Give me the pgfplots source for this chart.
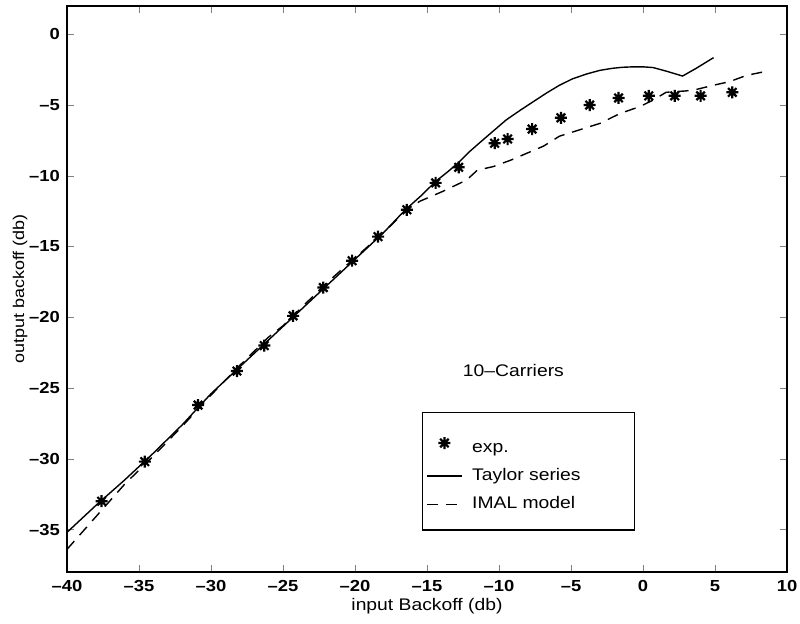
\documentclass[border=0pt]{standalone}
\usepackage{pgfplots}
\pgfplotsset{compat=1.18}
\usepackage{fontspec}
\setmainfont[FakeStretch=1.15]{Liberation Sans}
\usetikzlibrary{calc}

% 8-armed star like the matlab '*' marker
\pgfdeclareplotmark{mstar}{%
  \pgfpathmoveto{\pgfqpoint{-\pgfplotmarksize}{0pt}}\pgfpathlineto{\pgfqpoint{\pgfplotmarksize}{0pt}}%
  \pgfpathmoveto{\pgfqpoint{0pt}{-\pgfplotmarksize}}\pgfpathlineto{\pgfqpoint{0pt}{\pgfplotmarksize}}%
  \pgfpathmoveto{\pgfqpoint{-.707\pgfplotmarksize}{-.707\pgfplotmarksize}}\pgfpathlineto{\pgfqpoint{.707\pgfplotmarksize}{.707\pgfplotmarksize}}%
  \pgfpathmoveto{\pgfqpoint{-.707\pgfplotmarksize}{.707\pgfplotmarksize}}\pgfpathlineto{\pgfqpoint{.707\pgfplotmarksize}{-.707\pgfplotmarksize}}%
  \pgfusepathqstroke}

\begin{document}
\begin{tikzpicture}
\begin{axis}[name=ax,scale only axis,width=360pt,height=283pt,
  xmin=-40,xmax=10,ymin=-38,ymax=2,
  xtick={-40,-35,...,10},ytick={-35,-30,...,0},
  xticklabels={--40,--35,--30,--25,--20,--15,--10,--5,0,5,10},
  yticklabels={--35,--30,--25,--20,--15,--10,--5,0},
  tick align=inside,major tick length=3.5pt,
  xtick pos=both,ytick pos=both,
  tick label style={font=\fontsize{8}{10}\selectfont\bfseries},
  xticklabel style={yshift=-2.8pt,inner xsep=0pt,inner ysep=1pt},yticklabel style={xshift=0pt},
  xlabel={input Backoff (db)},ylabel={output backoff (db)},
  xlabel style={font=\fontsize{8.4}{10}\selectfont,at={(axis description cs:0.5,-0.061)},anchor=center,inner ysep=1pt},
  ylabel style={font=\fontsize{7.8}{9}\selectfont,at={(axis description cs:-0.0653,0.5)},anchor=center,rotate=0},
  axis line style={line width=0.7pt},
  legend style={at={(axis description cs:0.493,0.283)},anchor=north west,
    font=\fontsize{8.4}{10}\selectfont,draw=black,line width=0.7pt,
    inner xsep=2pt,inner ysep=7pt,row sep=2.5pt},
  legend cell align=left]
\addplot[only marks,mark=mstar,mark size=3pt,line width=1.1pt] coordinates {
  (-37.6,-33.0) (-34.6,-30.2) (-30.9,-26.2) (-28.2,-23.8) (-26.3,-22.0)
  (-24.3,-19.9) (-22.2,-17.9) (-20.2,-16.0) (-18.4,-14.3) (-16.4,-12.4)
  (-14.4,-10.5) (-12.8,-9.4) (-10.3,-7.7) (-9.4,-7.4) (-7.7,-6.7)
  (-5.7,-5.9) (-3.7,-5.0) (-1.7,-4.5) (0.4,-4.35) (2.2,-4.35)
  (4.0,-4.35) (6.2,-4.1)};
\addlegendentry{\rule{0pt}{11pt}\hspace*{3pt}\makebox[77pt][l]{exp.}}
\addplot[black,line width=0.7pt] coordinates {
  (-40,-35.2) (-38,-33.3) (-36,-31.5) (-34,-29.6) (-32,-27.6) (-30,-25.4)
  (-28,-23.5) (-26,-21.6) (-24,-19.7) (-22,-17.8) (-20,-15.9) (-18,-14.0)
  (-16.5,-12.4) (-15.4,-11.4) (-14.4,-10.4) (-13.6,-9.75) (-12.85,-9.1)
  (-12,-8.25) (-11.1,-7.45) (-10.3,-6.75) (-9.5,-6.05) (-8.5,-5.35)
  (-7.6,-4.75) (-6.7,-4.15) (-5.8,-3.6) (-4.9,-3.15) (-3.9,-2.8)
  (-3,-2.55) (-2.1,-2.4) (-1.4,-2.33) (-0.7,-2.3) (0,-2.3) (0.7,-2.35)
  (1.6,-2.6) (2.75,-2.95) (3.7,-2.4) (4.9,-1.65)};
\addlegendentry{\hspace*{3pt}Taylor series}
\addplot[black,line width=0.7pt,dash pattern=on 5.5pt off 4pt] coordinates {
  (-40,-36.4) (-38,-34.1) (-36,-31.8) (-34,-29.8) (-32,-27.7) (-30,-25.5)
  (-28,-23.4) (-27,-22.4) (-26,-21.4) (-25,-20.6) (-24,-19.6) (-22,-17.6)
  (-20,-15.8) (-18,-14.0) (-16.5,-12.5) (-15.5,-11.8) (-13.9,-11.1)
  (-12.25,-10.3) (-11.5,-9.6) (-10.4,-9.35) (-9.2,-8.9) (-6.9,-7.9)
  (-5.8,-7.2) (-4.4,-6.75) (-3.0,-6.3) (-1.6,-5.6) (-0.2,-5.1) (0.7,-4.65)
  (1.6,-4.1) (3.0,-4.0) (3.7,-3.9) (4.9,-3.6) (6.0,-3.35) (7.2,-2.9)
  (8.4,-2.65)};
\addlegendentry{\hspace*{3pt}IMAL model}
\node[font=\fontsize{8.4}{10}\selectfont] at (axis cs:-9,-23.75) {10--Carriers};
\end{axis}
\path ($(ax.south west)+(-33.5pt,-26pt)$) rectangle ($(ax.north east)+(6.5pt,3pt)$);
\end{tikzpicture}
\end{document}
